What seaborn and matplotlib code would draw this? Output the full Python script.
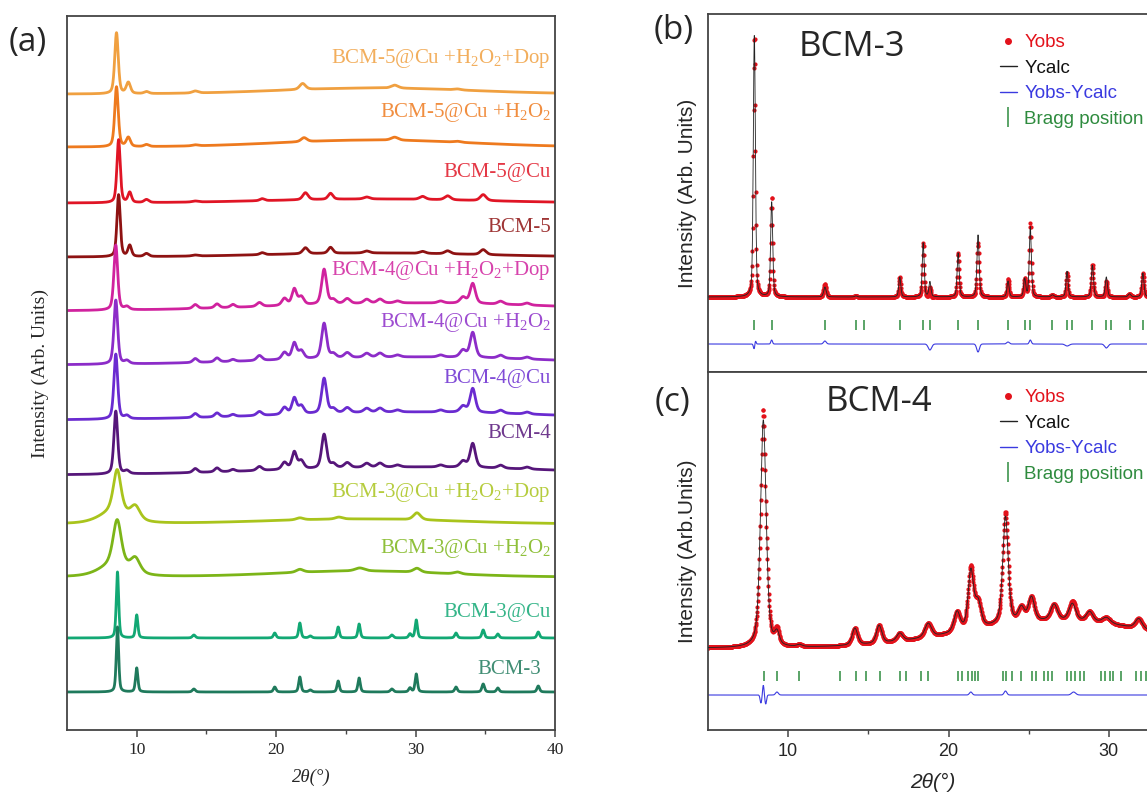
import numpy as np
import pandas as pd
import matplotlib
matplotlib.use("Agg")
import matplotlib.pyplot as plt
import seaborn as sns
from matplotlib.lines import Line2D

# ======================= DATA : panel (a) =======================
# stacking order bottom -> top
SAMPLES = ["BCM-3", "BCM-3@Cu", "BCM-3@Cu+H2O2", "BCM-3@Cu+H2O2+Dop",
           "BCM-4", "BCM-4@Cu", "BCM-4@Cu+H2O2", "BCM-4@Cu+H2O2+Dop",
           "BCM-5", "BCM-5@Cu", "BCM-5@Cu+H2O2", "BCM-5@Cu+H2O2+Dop"]
LABELS = ["BCM-3", "BCM-3@Cu", r"BCM-3@Cu +H$_2$O$_2$", r"BCM-3@Cu +H$_2$O$_2$+Dop",
          "BCM-4", "BCM-4@Cu", r"BCM-4@Cu +H$_2$O$_2$", r"BCM-4@Cu +H$_2$O$_2$+Dop",
          "BCM-5", "BCM-5@Cu", r"BCM-5@Cu +H$_2$O$_2$", r"BCM-5@Cu +H$_2$O$_2$+Dop"]
COLORS = ["#1f7a5c", "#12a874", "#7cb518", "#a9c41c",
          "#56167a", "#6a2bd0", "#8c2cc8", "#d0229e",
          "#8e1212", "#e01525", "#ee7a1e", "#f0a040"]
OFFSETS = [38, 92, 153, 206, 255, 310, 365, 419, 473, 527, 583, 636]

# peaks: (2theta, height, fwhm)
BCM3_PEAKS = [(8.62, 65, 0.2), (10.0, 24, 0.2), (14.1, 3, 0.25), (19.9, 5, 0.22), (21.7, 15, 0.2),
              (22.45, 2, 0.25), (24.45, 11, 0.2), (25.95, 14, 0.2), (28.3, 3, 0.25), (29.6, 4, 0.22),
              (30.05, 18, 0.2), (32.9, 5, 0.22), (34.85, 8, 0.22), (35.9, 4, 0.22), (38.8, 6, 0.22)]
BCM3CU_PEAKS = [(8.62, 66, 0.2), (10.0, 23, 0.2), (14.1, 3, 0.25), (19.9, 5, 0.22), (21.7, 15, 0.2),
                (22.45, 2, 0.25), (24.45, 11, 0.2), (25.95, 14, 0.2), (28.3, 3, 0.25), (29.6, 4, 0.22),
                (30.05, 18, 0.2), (32.9, 5, 0.22), (34.85, 8, 0.22), (35.9, 4, 0.22), (38.8, 6, 0.22)]
BCM3CU_H2O2_PEAKS = [(8.6, 45, 0.7), (9.9, 14, 0.8), (8.4, 12, 2.5), (21.7, 3, 0.6),
                     (26.0, 3, 0.8), (30.1, 4, 0.6), (33.0, 2, 0.6)]
BCM3CU_DOP_PEAKS = [(8.6, 42, 0.65), (9.9, 13, 0.8), (8.4, 12, 2.5), (21.7, 2, 0.6),
                    (24.5, 2, 0.6), (30.1, 7, 0.6)]
BCM4_PEAKS = [(8.5, 63, 0.32), (9.3, 3, 0.4), (14.2, 4, 0.4), (15.76, 4, 0.4), (16.9, 2, 0.4),
              (18.8, 4, 0.45), (20.6, 7, 0.45), (21.3, 17, 0.4), (21.8, 8, 0.45), (23.44, 34, 0.42),
              (24.1, 4, 0.45), (25.1, 5, 0.5), (26.5, 4, 0.5), (27.45, 4, 0.5), (28.7, 2, 0.5),
              (31.8, 2, 0.5), (33.4, 6, 0.5), (34.1, 24, 0.45), (36.1, 3, 0.5), (38.0, 2, 0.5)]
BCM4CU_PEAKS = [(8.5, 65, 0.32), (9.3, 3, 0.4), (14.2, 4, 0.4), (15.76, 4, 0.4), (16.9, 2, 0.4),
                (18.8, 4, 0.45), (20.6, 7, 0.45), (21.3, 16, 0.4), (21.8, 8, 0.45), (23.44, 35, 0.42),
                (24.1, 4, 0.45), (25.1, 5, 0.5), (26.5, 4, 0.5), (27.45, 4, 0.5), (28.7, 2, 0.5),
                (31.8, 2, 0.5), (33.4, 6, 0.5), (34.1, 24, 0.45), (36.1, 3, 0.5), (38.0, 2, 0.5)]
BCM4CU_H2O2_PEAKS = [(8.5, 64, 0.32), (9.3, 3, 0.4), (14.2, 4, 0.4), (15.76, 4, 0.4), (16.9, 2, 0.4),
                     (18.8, 5, 0.45), (20.6, 7, 0.45), (21.3, 16, 0.4), (21.8, 8, 0.45), (23.44, 35, 0.42),
                     (24.1, 4, 0.45), (25.1, 5, 0.5), (26.5, 4, 0.5), (27.45, 4, 0.5), (28.7, 2, 0.5),
                     (31.8, 2, 0.5), (33.4, 7, 0.5), (34.1, 25, 0.45), (36.1, 3, 0.5), (38.0, 2, 0.5)]
BCM4CU_DOP_PEAKS = [(8.5, 65, 0.32), (9.3, 3, 0.4), (14.2, 4, 0.4), (15.76, 4, 0.4), (16.9, 3, 0.4),
                    (18.8, 4, 0.45), (20.6, 7, 0.45), (21.3, 16, 0.4), (21.8, 8, 0.45), (23.44, 35, 0.42),
                    (24.1, 4, 0.45), (25.1, 5, 0.5), (26.5, 4, 0.5), (27.45, 4, 0.5), (28.7, 2, 0.5),
                    (31.8, 2, 0.5), (33.4, 6, 0.5), (34.1, 20, 0.45), (36.1, 3, 0.5), (38.0, 2, 0.5)]
BCM5_PEAKS = [(8.7, 62, 0.28), (9.5, 11, 0.3), (10.7, 3, 0.4), (14.2, 1, 0.5), (19.0, 2, 0.4),
              (22.1, 6, 0.45), (23.9, 6, 0.4), (26.5, 2, 0.5), (30.5, 2, 0.5), (32.3, 3, 0.5), (34.85, 5, 0.5)]
BCM5CU_PEAKS = [(8.7, 63, 0.28), (9.5, 10, 0.3), (10.7, 3, 0.4), (14.2, 1, 0.5), (19.0, 2, 0.4),
                (22.1, 7, 0.45), (23.9, 6, 0.4), (26.5, 2, 0.5), (30.5, 3, 0.5), (32.3, 4, 0.5), (34.85, 6, 0.5)]
BCM5CU_H2O2_PEAKS = [(8.55, 60, 0.3), (9.4, 9, 0.35), (10.7, 2, 0.4), (14.2, 1, 0.5),
                     (22.0, 4, 0.5), (28.5, 3, 0.6), (33.0, 1, 0.6)]
BCM5CU_DOP_PEAKS = [(8.55, 61, 0.3), (9.4, 11, 0.35), (10.7, 2, 0.4), (14.2, 2, 0.5),
                    (21.9, 6, 0.5), (28.5, 3, 0.6), (33.0, 1, 0.6)]
# broad amorphous humps: (center, height, fwhm)
HUMPS = [(27, 0, 10), (27, 0, 10), (26, 6, 14), (26, 5, 16),
         (30, 8, 24), (30, 8, 24), (30, 8, 24), (30, 8, 24),
         (27, 4, 18), (27, 4, 18), (27, 7, 16), (27, 6, 16)]
PEAK_SETS = [BCM3_PEAKS, BCM3CU_PEAKS, BCM3CU_H2O2_PEAKS, BCM3CU_DOP_PEAKS,
             BCM4_PEAKS, BCM4CU_PEAKS, BCM4CU_H2O2_PEAKS, BCM4CU_DOP_PEAKS,
             BCM5_PEAKS, BCM5CU_PEAKS, BCM5CU_H2O2_PEAKS, BCM5CU_DOP_PEAKS]
LABEL_RISE = [22, 25, 29, 31, 42, 42, 43, 41, 30, 30, 35, 36]
A_XTICKS = [10, 20, 30, 40]

# ======================= DATA : panel (b) BCM-3 refinement =======================
B_BASE = 75
B_PEAKS = [(7.89, 265, 0.15), (8.97, 96, 0.15), (12.29, 10, 0.18), (14.22, 1, 0.2), (16.96, 20, 0.15),
           (18.42, 54, 0.14), (18.84, 15, 0.15), (20.6, 44, 0.15), (21.84, 62, 0.16), (23.71, 16, 0.15),
           (24.75, 18, 0.15), (25.1, 70, 0.15), (26.48, 2, 0.2), (27.39, 26, 0.15), (28.97, 32, 0.16),
           (29.84, 20, 0.16), (31.29, 3, 0.2), (32.12, 24, 0.16)]
B_RESID = [(7.89, -6, 0.12), (7.95, 5, 0.1), (8.97, 4, 0.12), (12.29, 3, 0.2), (18.84, -6, 0.25),
           (21.84, -8, 0.2), (23.71, 2, 0.2), (25.1, 4, 0.15), (27.4, -2, 0.3), (29.84, -4, 0.25)]
B_BRAGG = [7.89, 8.97, 12.29, 14.22, 14.74, 16.96, 18.42, 18.84, 20.6, 21.84, 23.71, 24.75, 25.1,
           26.48, 27.39, 27.72, 28.97, 29.84, 30.11, 31.29, 32.12]
B_BRAGG_LEVEL = 47
B_DIFF_LEVEL = 28

# ======================= DATA : panel (c) BCM-4 refinement =======================
C_BASE = 82
C_PEAKS = [(8.45, 228, 0.42), (9.3, 12, 0.35), (10.7, 2, 0.4), (14.16, 17, 0.4), (15.67, 18, 0.4),
           (16.96, 8, 0.45), (18.73, 14, 0.5), (20.53, 20, 0.45), (21.39, 58, 0.4), (21.84, 25, 0.45),
           (23.55, 108, 0.4), (24.54, 14, 0.45), (25.17, 24, 0.45), (26.58, 16, 0.5), (27.72, 17, 0.5),
           (28.8, 10, 0.5), (29.84, 6, 0.6), (31.86, 10, 0.5)]
C_HUMP = (27, 27, 14)
C_RESID = [(8.3, -8, 0.12), (8.45, 10, 0.1), (8.6, -9, 0.12), (9.3, 3, 0.2), (21.39, 3, 0.2),
           (23.55, 4, 0.2), (27.8, 3, 0.3)]
C_BRAGG = [8.49, 9.32, 10.69, 13.22, 14.22, 14.84, 15.72, 17.0, 17.32, 18.27, 18.73, 20.6, 20.87,
           21.22, 21.47, 21.64, 21.84, 23.4, 23.61, 23.98, 24.55, 25.23, 25.48, 25.95, 26.2, 26.48,
           27.41, 27.66, 27.91, 28.18, 28.45, 29.53, 29.78, 30.05, 30.25, 30.78, 31.71, 32.02, 32.29]
C_BRAGG_LEVEL = 54
C_DIFF_LEVEL = 35
BC_XTICKS = [10, 20, 30]


def profile(x, peaks, eta=0.5):
    y = np.zeros_like(x)
    for c, h, w in peaks:
        d = (x - c) / w
        y += h * (eta / (1 + 4 * d ** 2) + (1 - eta) * np.exp(-4 * np.log(2) * d ** 2))
    return y


def gauss(x, peaks):
    y = np.zeros_like(x)
    for c, h, w in peaks:
        y += h * np.exp(-4 * np.log(2) * ((x - c) / w) ** 2)
    return y


# ======================= FIGURE =======================
sns.set_theme(style="white")
plt.rcParams["mathtext.fontset"] = "custom"
plt.rcParams["mathtext.default"] = "regular"

W, H = 1147, 793
fig = plt.figure(figsize=(W / 100, H / 100), dpi=100)


def rect(x0, y0, x1, y1):
    return [x0 / W, 1 - y1 / H, (x1 - x0) / W, (y1 - y0) / H]


SERIF = "Liberation Serif"
SANS = "Liberation Sans"
SPINE = "#444444"

# ---------------- panel (a) ----------------
axa = fig.add_axes(rect(67, 16, 555, 730))
xa = np.arange(5, 40.0001, 0.01)
frames = []
for name, pk, hump, off in zip(SAMPLES, PEAK_SETS, HUMPS, OFFSETS):
    yy = off + profile(xa, pk, 0.5 if "3@Cu+" in name else 0.45) + gauss(xa, [hump])
    frames.append(pd.DataFrame({"two_theta": xa, "intensity": yy, "sample": name}))
dfa = pd.concat(frames, ignore_index=True)
sns.lineplot(data=dfa, x="two_theta", y="intensity", hue="sample",
             hue_order=SAMPLES[::-1], palette=dict(zip(SAMPLES, COLORS)),
             estimator=None, sort=False, legend=False, linewidth=2.0, ax=axa)
for lab, col, off, rise, name in zip(LABELS, COLORS, OFFSETS, LABEL_RISE, SAMPLES):
    xr = 39.0 if name == "BCM-3" else 39.7
    axa.text(xr, off + rise, lab, ha="right", va="center", color=col, alpha=0.85,
             fontsize=15, family=SERIF)
axa.set_xlim(5, 40)
axa.set_ylim(0, 714)
axa.set_yticks([])
axa.set_xticks(A_XTICKS)
axa.set_xticks([15, 25, 35], minor=True)
axa.tick_params(axis="x", which="major", direction="out", length=5, width=1.1, color=SPINE,
                labelsize=12.5, pad=4, bottom=True)
axa.tick_params(axis="x", which="minor", direction="out", length=3, width=1.0, color=SPINE, bottom=True)
for lbl in axa.get_xticklabels():
    lbl.set_family(SERIF)
axa.set_xlabel("2θ(°)", family=SERIF, style="italic", fontsize=13.5)
axa.xaxis.set_label_coords(0.5, -0.054)
axa.set_ylabel("Intensity (Arb. Units)", family=SERIF, fontsize=14)
axa.yaxis.set_label_coords(-0.037, 0.5)
for s in axa.spines.values():
    s.set_color(SPINE)
    s.set_linewidth(1.3)

# ---------------- panels (b) and (c) ----------------
xbc = np.arange(5, 33.0001, 0.02)
RED, BLUE, GREEN = "#e3121b", "#3a3ae0", "#2e8b3e"


def refinement_panel(ax, base, peaks, hump, resid, bragg, bragg_level, diff_level, eta):
    ycalc = base + profile(xbc, peaks, eta) + gauss(xbc, hump)
    r = gauss(xbc, resid)
    yobs = ycalc + r
    sns.scatterplot(x=xbc, y=yobs, s=9, color=RED, linewidth=0, ax=ax, zorder=2)
    sns.lineplot(x=xbc, y=ycalc, color="#222222", linewidth=0.6, ax=ax, zorder=3,
                 estimator=None, sort=False)
    sns.lineplot(x=xbc, y=diff_level + r, color=BLUE, linewidth=0.8, ax=ax,
                 estimator=None, sort=False)
    sns.scatterplot(x=bragg, y=np.full(len(bragg), bragg_level), marker="|", s=50,
                    color=GREEN, linewidth=1.1, ax=ax)
    ax.set_xlim(5, 33)
    ax.set_ylim(0, 358)
    ax.set_yticks([])
    for s in ax.spines.values():
        s.set_color(SPINE)
        s.set_linewidth(1.3)
    handles = [Line2D([], [], ls="none", marker="o", ms=4, color=RED),
               Line2D([], [], color="#222222", lw=1.0),
               Line2D([], [], color=BLUE, lw=1.0),
               Line2D([], [], ls="none", marker="|", ms=14, mew=1.1, color=GREEN)]
    return handles


LEG_LABELS = ["Yobs", "Ycalc", "Yobs-Ycalc", "Bragg position"]
LEG_COLORS = [RED, "#111111", BLUE, GREEN]

axb = fig.add_axes(rect(708, 14, 1157, 372))
hb = refinement_panel(axb, B_BASE, B_PEAKS, [], B_RESID, B_BRAGG, B_BRAGG_LEVEL, B_DIFF_LEVEL, 0.4)
axb.set_xticks([])
axb.set_xlabel("")
axb.set_ylabel("Intensity (Arb. Units)", family=SANS, fontsize=15)
axb.yaxis.set_label_coords(-0.024, 0.5)

axc = fig.add_axes(rect(708, 372, 1157, 730))
hc = refinement_panel(axc, C_BASE, C_PEAKS, [C_HUMP], C_RESID, C_BRAGG, C_BRAGG_LEVEL, C_DIFF_LEVEL, 0.5)
axc.set_xticks(BC_XTICKS)
axc.set_xticks([15, 25], minor=True)
axc.tick_params(axis="x", which="major", direction="out", length=5, width=1.1, color=SPINE,
                labelsize=13, pad=4, bottom=True)
axc.tick_params(axis="x", which="minor", direction="out", length=3, width=1.0, color=SPINE, bottom=True)
for lbl in axc.get_xticklabels():
    lbl.set_family(SANS)
axc.set_xlabel("2θ(°)", family=SANS, style="italic", fontsize=15)
axc.xaxis.set_label_coords(0.5, -0.12)
axc.set_ylabel("Intensity (Arb.Units)", family=SANS, fontsize=15)
axc.yaxis.set_label_coords(-0.024, 0.5)

for ax, hh, ytop in [(axb, hb, 34), (axc, hc, 389)]:
    leg = ax.legend(hh, LEG_LABELS, loc="upper left", bbox_to_anchor=(1000 / W, 1 - ytop / H),
                    bbox_transform=fig.transFigure, frameon=False,
                    handlelength=0.9, handletextpad=0.4, labelspacing=0.45, borderpad=0,
                    borderaxespad=0, prop={"family": SANS, "size": 13.5})
    for t, c in zip(leg.get_texts(), LEG_COLORS):
        t.set_color(c)

# titles and panel letters
fig.text(852 / W, 1 - 47 / H, "BCM-3", ha="center", va="center", fontsize=25, family="Open Sans")
fig.text(879 / W, 1 - 402 / H, "BCM-4", ha="center", va="center", fontsize=25, family="Open Sans")
fig.text(28 / W, 1 - 42 / H, "(a)", ha="center", va="center", fontsize=24, family="Open Sans")
fig.text(674 / W, 1 - 30 / H, "(b)", ha="center", va="center", fontsize=24, family="Open Sans")
fig.text(673 / W, 1 - 402 / H, "(c)", ha="center", va="center", fontsize=24, family="Open Sans")

fig.savefig("out.png", dpi=100)
